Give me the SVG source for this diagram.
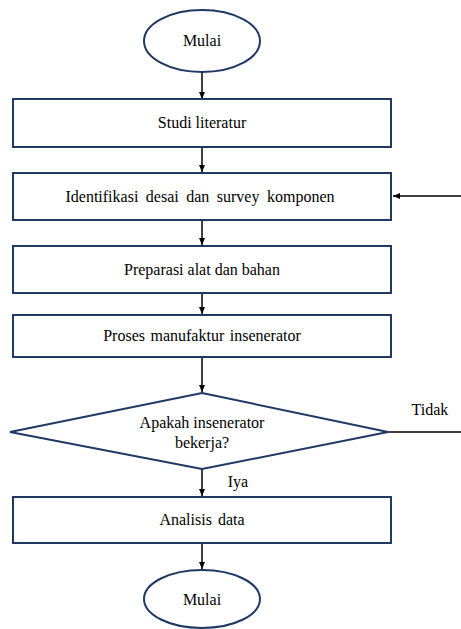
<svg xmlns="http://www.w3.org/2000/svg" width="461" height="629" viewBox="0 0 461 629">
<defs>
<style>
.n{fill:#fff;stroke:#203864;stroke-width:2}
.t{font-family:"Liberation Serif","Times New Roman",serif;font-size:16px;fill:#000;text-anchor:middle}
.c{stroke:#000;stroke-width:1.5;fill:none}
</style>
<marker id="ah" markerWidth="8" markerHeight="8" refX="7" refY="4" orient="auto" markerUnits="userSpaceOnUse">
<path d="M0,1 L7,4 L0,7 Z" fill="#000"/>
</marker>
</defs>
<rect width="461" height="629" fill="#fff"/>
<g id="connectors">
<line class="c" x1="202" y1="72" x2="202" y2="99" marker-end="url(#ah)"/>
<line class="c" x1="202" y1="147" x2="202" y2="172" marker-end="url(#ah)"/>
<line class="c" x1="202" y1="220" x2="202" y2="245" marker-end="url(#ah)"/>
<line class="c" x1="202" y1="293" x2="202" y2="314" marker-end="url(#ah)"/>
<line class="c" x1="202" y1="357" x2="202" y2="392" marker-end="url(#ah)"/>
<line class="c" x1="202" y1="469" x2="202" y2="496" marker-end="url(#ah)"/>
<line class="c" x1="202" y1="543" x2="202" y2="569" marker-end="url(#ah)"/>
<line class="c" x1="388" y1="432" x2="461" y2="432"/>
<line class="c" x1="461" y1="196" x2="393" y2="196" marker-end="url(#ah)"/>
<text class="t" x="430" y="415">Tidak</text>
<text class="t" x="238" y="487">Iya</text>
</g>
<g id="start">
<ellipse class="n" cx="202" cy="41" rx="58" ry="31"/>
<text class="t" x="202" y="46">Mulai</text>
</g>
<g id="studi">
<rect class="n" x="13" y="99" width="378" height="48"/>
<text class="t" x="202" y="128">Studi literatur</text>
</g>
<g id="identifikasi">
<rect class="n" x="13" y="173" width="378" height="47"/>
<text class="t" x="200" y="202" style="word-spacing:3.5px">Identifikasi desai dan survey komponen</text>
</g>
<g id="preparasi">
<rect class="n" x="13" y="246" width="378" height="47"/>
<text class="t" x="202" y="275">Preparasi alat dan bahan</text>
</g>
<g id="proses">
<rect class="n" x="13" y="315" width="378" height="42"/>
<text class="t" x="202" y="341" style="word-spacing:1.5px">Proses manufaktur insenerator</text>
</g>
<g id="decision">
<polygon class="n" points="202,393 388,432 202,469 10,432"/>
<text class="t" x="202" y="428">Apakah insenerator</text>
<text class="t" x="202" y="448">bekerja?</text>
</g>
<g id="analisis">
<rect class="n" x="13" y="497" width="378" height="46"/>
<text class="t" x="202" y="525" style="word-spacing:2px">Analisis data</text>
</g>
<g id="end">
<ellipse class="n" cx="202" cy="599" rx="58" ry="29"/>
<text class="t" x="202" y="605">Mulai</text>
</g>
</svg>
